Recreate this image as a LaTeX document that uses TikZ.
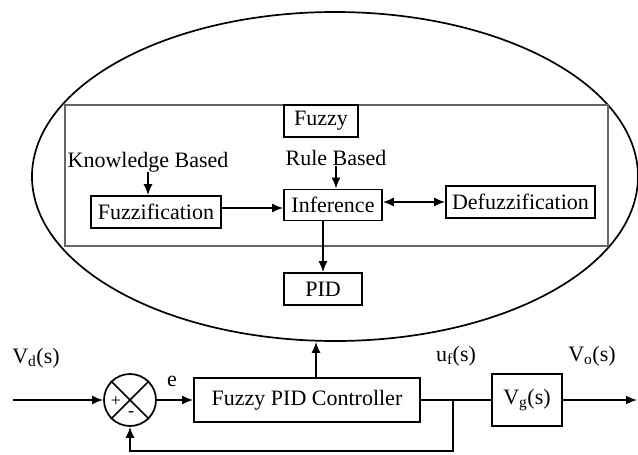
\documentclass[tikz,border=0pt]{standalone}
\usepackage{fontspec}
\setmainfont{Liberation Serif}
\usetikzlibrary{arrows.meta,shapes.geometric,calc}
\begin{document}
\begin{tikzpicture}[x=1pt,y=-1pt,
  font=\fontsize{22}{26}\selectfont,
  every node/.style={inner sep=0pt},
  blk/.style={draw, line width=1.7pt, minimum height=#1},
  blk/.default=32pt,
  lbl/.style={},
  con/.style={line width=1.7pt},
  arr/.style={con, -{Latex[length=11pt,width=9pt]}},
  darr/.style={con, {Latex[length=11pt,width=9pt]}-{Latex[length=11pt,width=9pt]}}
]
\useasboundingbox (0,0) rectangle (638,455);

% outer ellipse framing the fuzzy controller internals
\node[draw, ellipse, line width=1.7pt, minimum width=606pt, minimum height=329pt] (ell) at (335,176.5) {};
% fuzzy system frame
\node[draw=black!60, line width=2.2pt, minimum width=543pt, minimum height=141pt] (frame) at (336.5,175.5) {};

% inner blocks
\node[blk, minimum width=74pt] (fuzzy) at (321,121) {Fuzzy};
\node[blk, minimum width=130pt] (fuzzif) at (156,212) {Fuzzification};
\node[blk=31pt, minimum width=98pt] (infer) at (333,205) {Inference};
\node[blk, minimum width=149pt] (defuz) at (520.5,202) {Defuzzification};
\node[blk, minimum width=78pt] (pid) at (323,289) {PID};

\node[lbl, anchor=south] (kb) at (148,172) {Knowledge Based};
\node[lbl, anchor=south] (rb) at (336,166) {Rule Based};

\draw[arr] (kb.south) -- (kb.south |- fuzzif.north);
\draw[arr] (rb.south) -- (rb.south |- infer.north);
\draw[arr] ([yshift=4pt]fuzzif.east) -- ([yshift=4pt]fuzzif.east -| infer.west);
\draw[darr] (defuz.west -| infer.east) -- (defuz.west);
\draw[arr] (infer.south -| pid.north) -- (pid.north);

% control loop
\node[draw, circle, line width=1.7pt, minimum size=52pt] (sum) at (130,400) {};
\draw[con] (sum.north east) -- (sum.south west);
\draw[con] (sum.north west) -- (sum.south east);
\node[font=\fontsize{18}{20}\selectfont] (plus) at (116,401) {+};
\node[font=\fontsize{18}{20}\selectfont] (minus) at (131,414) {-};

\node[blk=44pt, minimum width=226pt] (ctrl) at (307,400) {Fuzzy PID Controller};
\node[blk=52pt, minimum width=70pt] (plant) at (527,400) {V\textsubscript{g}(s)};

\coordinate (in) at (13,400);
\coordinate (out) at (637,400);
\coordinate (br) at (453,400);
\coordinate (fb) at (453,451);

\node[lbl] (vd) at (36,358) {V\textsubscript{d}(s)};
\node[lbl] (e) at (172,381) {e};
\node[lbl] (uf) at (456,356) {u\textsubscript{f}(s)};
\node[lbl] (vo) at (592,356) {V\textsubscript{o}(s)};

\draw[arr] (in) -- (sum.west);
\draw[arr] (sum.east) -- (ctrl.west);
\draw[con] (ctrl.east) -- (plant.west);
\draw[arr] (plant.east) -- (out);
\draw[arr] (br) -- (fb) -| (sum.south);
\draw[arr] ([xshift=9pt]ctrl.north) -- ([xshift=9pt]ctrl.north |- ell.south);
\end{tikzpicture}
\end{document}
